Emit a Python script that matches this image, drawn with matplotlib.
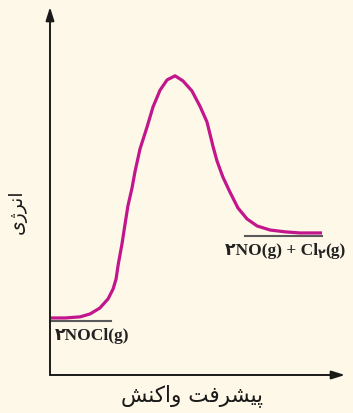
import matplotlib
matplotlib.use("Agg")
import matplotlib.pyplot as plt

# reaction coordinate / energy (arbitrary units 0-100)
progress = [0.3, 5.1, 10.2, 13.6, 16.9, 19.7, 21.4, 22.4, 23.1, 24.4, 25.4, 26.4,
            27.8, 28.8, 30.5, 32.9, 34.9, 37.3, 39.7, 42.4, 45.1, 48.1, 50.8,
            53.2, 55.3, 56.6, 58.6, 61.0, 63.7, 66.8, 70.2, 74.6, 79.7, 84.7,
            92.2]
energy = [15.5, 15.5, 15.8, 16.6, 18.2, 20.7, 23.4, 26.1, 29.9, 35.6, 40.8, 45.9,
          50.8, 55.2, 61.4, 67.4, 72.8, 77.4, 80.2, 81.3, 79.9, 77.2, 73.1,
          68.8, 62.0, 58.2, 53.8, 49.7, 45.4, 42.4, 40.5, 39.4, 38.9, 38.6,
          38.6]
reactant_level = 14.7
reactant_span = [0, 20.7]
product_level = 37.8
product_span = [66.1, 92.2]

# pre-shaped persian text (presentation forms, visual order)
ylabel_txt = "\uFBFC\uFB8A\uFEAE\uFEE7\uFE8D"  # انرژی
xlabel_txt = "\uFEB6\uFEE8\uFB90\uFE8D\uFEED \uFE96\uFED3\uFEAE\uFEB8\uFBFF\uFB58"  # پیشرفت واکنش
two = "\u06F2"

bg = "#FDF8E8"
fig = plt.figure(figsize=(3.53, 4.14), dpi=100, facecolor=bg)
ax = fig.add_axes([50/353, 38/414, 295/353, 368/414])
ax.set_facecolor(bg)
ax.set_xlim(0, 100)
ax.set_ylim(0, 100)
for s in ["top", "right", "left", "bottom"]:
    ax.spines[s].set_visible(False)
ax.set_xticks([])
ax.set_yticks([])

# axes with arrows
ax.annotate("", xy=(0, 100), xytext=(0, 0),
            arrowprops=dict(arrowstyle="-|>,head_width=0.25,head_length=0.8",
                            color="#1a1a1a", lw=1.4, shrinkA=0, shrinkB=0))
ax.annotate("", xy=(100, 0), xytext=(0, 0),
            arrowprops=dict(arrowstyle="-|>,head_width=0.25,head_length=0.8",
                            color="#1a1a1a", lw=1.4, shrinkA=0, shrinkB=0))

ax.plot(reactant_span, [reactant_level]*2, color="#5a5a5a", lw=1.5)
ax.plot(product_span, [product_level]*2, color="#5a5a5a", lw=1.5)
ax.plot(progress, energy, color="#C2168C", lw=2.3, solid_capstyle="butt",
        solid_joinstyle="round")

fam = ["Liberation Serif", "DejaVu Sans"]
fig.text(121/353, 1 - 396/414, xlabel_txt, family="DejaVu Sans", fontsize=15.5,
         ha="left", va="center", color="#1a1a1a")
fig.text(17/353, 1 - 212/414, ylabel_txt, family="DejaVu Sans", fontsize=13.5,
         rotation=90, ha="center", va="center", color="#1a1a1a")

fig.text(55/353, 1 - 340/414, two + "NOCl(g)", family=fam, fontweight="bold",
         fontsize=12.5, color="#222222")

# product label with subscript, placed piece by piece
fig.canvas.draw()
r = fig.canvas.get_renderer()
inv = fig.transFigure.inverted()
x0, y0 = 225/353, 1 - 255/414
pieces = [(two + "NO(g) + Cl", 12.5, 0), (two, 9, -3), ("(g)", 12.5, 0)]
cur = x0
for txt, fs, dy in pieces:
    t = fig.text(cur, y0 + dy/414, txt, family=fam, fontweight="bold",
                 fontsize=fs, color="#222222")
    bb = t.get_window_extent(r)
    cur = inv.transform((bb.x1, bb.y0))[0]

fig.savefig("out.png", dpi=100, facecolor=bg)
